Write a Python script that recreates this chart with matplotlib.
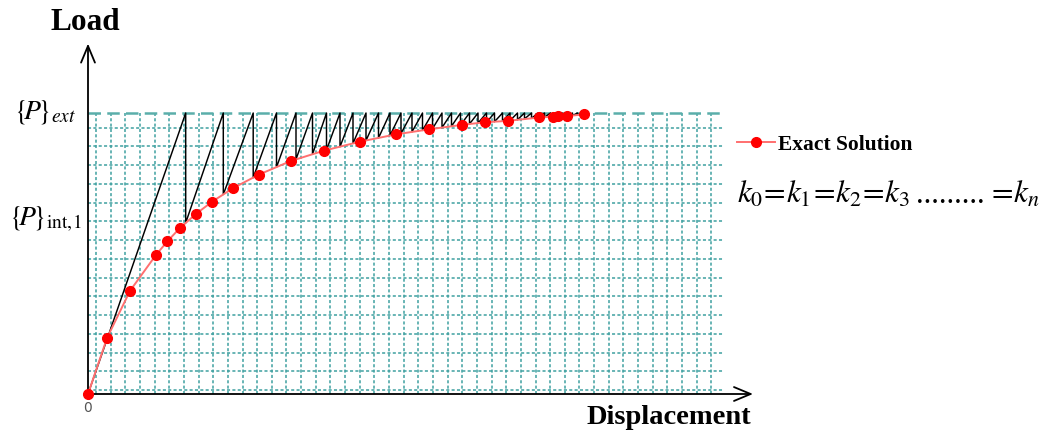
import matplotlib
matplotlib.use("Agg")
import matplotlib.pyplot as plt
import numpy as np

# exact solution, load normalised so that P_ext = 1
exact_disp = [0.0, 1.9, 4.2, 6.8, 7.93, 9.2, 10.77, 12.43, 14.53, 17.1, 20.27, 23.6,
              27.2, 30.8, 34.13, 37.43, 39.73, 41.97, 45.13, 46.53, 46.97, 47.87, 49.6]
exact_load = [0.0, 0.199, 0.367, 0.495, 0.543, 0.591, 0.640, 0.685, 0.733, 0.781, 0.829, 0.866,
              0.898, 0.924, 0.942, 0.958, 0.967, 0.972, 0.984, 0.987, 0.988, 0.989, 0.995]

# constant stiffness iterations: climb to P_ext, then drop back onto the curve
peak_disp = [9.77, 13.53, 16.52, 18.85, 20.8, 22.45, 23.85, 25.2, 26.5, 27.8, 29.05, 30.2,
             31.3, 32.4, 33.45, 34.45, 35.4, 36.35, 37.25, 38.15, 39.0, 39.85, 40.65, 41.45,
             42.2, 42.95, 43.65, 44.35, 45.0, 45.65, 46.25, 46.85, 47.4, 47.95, 48.45, 48.95,
             49.4, 49.8]
drop_load = [0.609, 0.710, 0.770, 0.807, 0.835, 0.853, 0.868, 0.880, 0.892, 0.902, 0.911, 0.920,
             0.927, 0.933, 0.938, 0.944, 0.948, 0.953, 0.957, 0.961, 0.964, 0.967, 0.969, 0.971,
             0.973, 0.976, 0.979, 0.981, 0.984, 0.985, 0.986, 0.988, 0.988, 0.989, 0.991, 0.993,
             0.994, 0.996]
p_ext = 1.0

teal = "#3FA0A0"
serif = "Liberation Serif"
plt.rcParams["mathtext.fontset"] = "stix"

fig = plt.figure(figsize=(10.56, 4.30), dpi=100)
ax = fig.add_axes([88 / 1056, 36 / 430, 667 / 1056, 349 / 430])
ax.set_xlim(0, 66.7)
ax.set_ylim(0, 1.242)
ax.axis("off")

# background grid
grid_x = 0.8 + 1.465 * np.arange(43)
grid_y = 0.0142 + np.arange(15) / 15
ax.vlines(grid_x, 0, p_ext, colors=teal, linestyles=(0, (2, 1.5)), lw=1.1, zorder=1)
ax.hlines(grid_y, 0, 63.5, colors=teal, linestyles=(0, (2, 1.5)), lw=1.1, zorder=1)
ax.hlines(p_ext, 0, 63.5, colors="#5BAEAA", linestyles=(0, (5, 2.5)), lw=1.8, zorder=1)

# sawtooth path
saw_x, saw_y = [0.0], [0.0]
for x, y in zip(peak_disp, drop_load):
    saw_x += [x, x]
    saw_y += [p_ext, y]
ax.plot(saw_x, saw_y, color="black", lw=1.05, zorder=3, clip_on=False)

ax.plot(exact_disp, exact_load, color="#FF6F6F", lw=1.4, marker="o", ms=7,
        mfc="#FF0000", mec="#FF0000", zorder=4, clip_on=False, label="Exact Solution")

# axes with open arrow heads
arrow = dict(arrowstyle="->,head_length=1.2,head_width=0.5", lw=1.3, color="black",
             shrinkA=0, shrinkB=0)
ax.annotate("", xy=(0, 1.247), xytext=(0, 0), arrowprops=arrow, annotation_clip=False)
ax.annotate("", xy=(66.5, 0), xytext=(0, 0), arrowprops=arrow, annotation_clip=False)

fig.text(85 / 1056, 1 - 22 / 430, "Load", ha="center", va="center",
         fontsize=22.5, fontweight="bold", family=serif)
fig.text(751 / 1056, 1 - 424 / 430, "Displacement", ha="right", va="baseline",
         fontsize=20.5, fontweight="bold", family=serif)
fig.text(88 / 1056, 1 - 408 / 430, "0", ha="center", va="center",
         fontsize=10, color="#555555")

fig.text(14 / 1056, 1 - 119 / 430, r"$\{\!P\!\}_{ext}$", ha="left", va="baseline",
         fontsize=20)
fig.text(9 / 1056, 1 - 226 / 430, r"$\{\!P\!\}_{\mathrm{int,\!1}}$", ha="left",
         va="baseline", fontsize=20)

# stiffness relation, split so the dot leader keeps its tight spacing
fig.text(737 / 1056, 1 - 203 / 430, r"$k_0\!=\!k_1\!=\!k_2\!=\!k_3$", ha="left",
         va="baseline", fontsize=22.5)
fig.text(916 / 1056, 1 - 203 / 430, ".........", ha="left", va="baseline",
         fontsize=22, family=serif)
fig.text(1040 / 1056, 1 - 203 / 430, r"$=\!k_n$", ha="right", va="baseline",
         fontsize=22.5)

ax.legend(loc="center left", bbox_to_anchor=(737 / 1056, 1 - 145 / 430),
          bbox_transform=fig.transFigure, frameon=False, borderpad=0, borderaxespad=0,
          handlelength=1.75, handletextpad=0.15,
          prop={"family": serif, "weight": "bold", "size": 15.5})

fig.savefig("out.png", dpi=100)
